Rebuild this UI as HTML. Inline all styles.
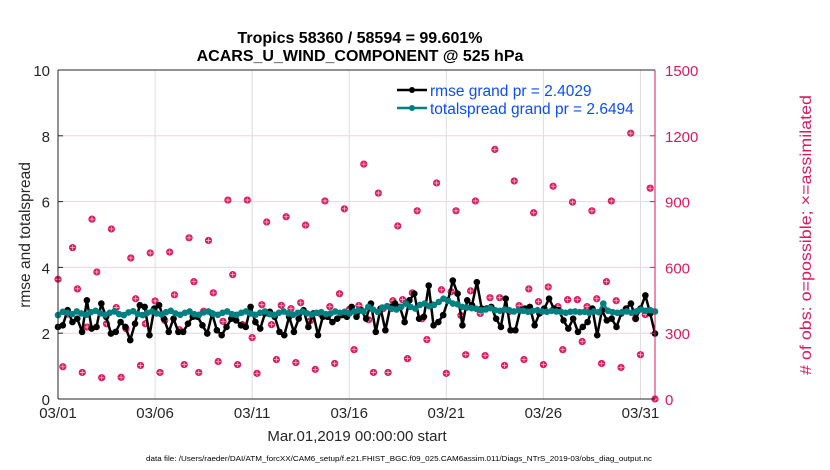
<!DOCTYPE html>
<html><head><meta charset="utf-8">
<style>
html,body{margin:0;padding:0;background:#fff;}
svg{display:block;font-family:"Liberation Sans",sans-serif;}
</style></head>
<body>
<svg id="chart" width="830" height="470" viewBox="0 0 830 470" xmlns="http://www.w3.org/2000/svg">
<rect width="830" height="470" fill="#fff"/>
<g id="grid"></g>
<g id="obs"></g>
<g id="lines"></g>
<g id="axes"></g>
<text x="360" y="43" font-size="16" font-weight="bold" text-anchor="middle">Tropics 58360 / 58594 = 99.601%</text>
<text x="360" y="61" font-size="16" font-weight="bold" text-anchor="middle">ACARS_U_WIND_COMPONENT @ 525 hPa</text>
<text transform="translate(30,235) rotate(-90)" font-size="15.5" text-anchor="middle" fill="#262626">rmse and totalspread</text>
<text transform="translate(811,235) rotate(-90)" font-size="15.5" text-anchor="middle" textLength="280" lengthAdjust="spacingAndGlyphs" fill="#d81b5a"># of obs: o=possible; ×=assimilated</text>
<text x="357" y="441" font-size="15" text-anchor="middle" fill="#262626">Mar.01,2019 00:00:00 start</text>
<text x="146" y="461" font-size="7.6" textLength="506" lengthAdjust="spacingAndGlyphs" fill="#000">data file: /Users/raeder/DAI/ATM_forcXX/CAM6_setup/f.e21.FHIST_BGC.f09_025.CAM6assim.011/Diags_NTrS_2019-03/obs_diag_output.nc</text>
<g>
<line x1="397" y1="90" x2="427" y2="90" stroke="#000" stroke-width="2.5"/>
<circle cx="412" cy="90" r="3" fill="#000"/>
<text x="430" y="96" font-size="15.5" fill="#0b4ef0">rmse grand pr = 2.4029</text>
<line x1="397" y1="108" x2="427" y2="108" stroke="#008080" stroke-width="2.5"/>
<circle cx="412" cy="108" r="3" fill="#008080"/>
<text x="430" y="114" font-size="15.5" fill="#0b4ef0">totalspread grand pr = 2.6494</text>
</g>
</svg>
<script>
const xTickLabels = ["03/01","03/06","03/11","03/16","03/21","03/26","03/31"];
const xTickDays = [0,5,10,15,20,25,30];
const yTicks = [0,2,4,6,8,10];
const yRightTicks = [0,300,600,900,1200,1500];
const rmse = [2.19,2.24,2.7,2.34,2.44,2.04,3.0,2.14,2.19,2.9,2.5,1.99,2.04,2.34,2.19,1.79,2.29,2.85,2.8,1.94,2.75,2.85,2.44,2.04,2.44,2.04,2.04,2.29,2.5,2.5,2.24,1.99,2.6,2.09,1.94,2.19,2.44,2.39,2.24,2.19,2.8,2.34,2.14,2.6,2.65,2.5,2.04,1.94,2.5,2.04,2.44,2.7,2.19,2.6,1.94,2.5,2.5,2.34,2.44,2.55,2.5,2.8,
2.5,2.7,2.44,2.9,2.04,2.75,2.09,2.8,2.9,2.8,2.34,3.0,3.2,2.44,2.5,3.45,2.24,2.34,2.55,3.0,3.6,3.2,2.24,3.0,2.85,3.55,2.75,2.75,2.8,2.44,2.19,3.05,2.09,2.09,2.7,2.75,2.8,2.24,2.6,2.75,3.05,2.75,2.7,2.39,2.14,2.44,2.04,2.19,2.34,2.75,1.94,2.7,2.39,2.44,2.19,2.6,2.75,2.9,2.44,2.75,3.15,2.6,1.99];
const spread = [2.55,2.65,2.62,2.58,2.66,2.6,2.56,2.64,2.68,2.6,2.56,2.62,2.66,2.58,2.55,2.63,2.67,2.58,2.55,2.62,2.66,2.6,2.57,2.64,2.68,2.6,2.56,2.62,2.66,2.58,2.56,2.63,2.66,2.59,2.56,2.62,2.66,2.58,2.56,2.62,2.66,2.6,2.56,2.62,2.66,2.58,2.56,2.62,2.66,2.6,2.56,2.62,2.66,2.6,2.57,2.62,2.64,2.58,2.6,2.66,2.62,2.65,
2.6,2.66,2.7,2.66,2.8,2.72,2.65,2.78,2.82,2.74,2.72,2.8,2.9,2.8,2.75,2.86,2.9,2.82,2.86,2.95,3.05,2.98,2.9,2.88,2.8,2.78,2.76,2.74,2.7,2.72,2.76,2.7,2.68,2.72,2.7,2.66,2.7,2.68,2.65,2.68,2.7,2.66,2.65,2.68,2.66,2.65,2.62,2.65,2.66,2.64,2.65,2.62,2.66,2.64,2.9,2.68,2.64,2.62,2.64,2.66,2.62,2.66,2.72,2.68,2.7,2.66];
const obsCount = [546,147,387,690,502,121,328,820,579,97,343,775,417,99,321,643,457,153,343,666,447,121,358,670,475,316,157,735,535,121,400,723,484,171,354,907,567,157,339,907,280,117,430,807,339,180,427,831,412,166,439,793,357,135,390,903,421,162,480,867,408,225,426,1071,
361,121,939,412,121,448,789,453,184,484,858,366,271,430,985,498,117,489,858,381,202,493,903,390,198,462,1138,462,153,399,994,426,180,502,849,444,157,511,970,421,225,453,898,453,262,421,858,457,162,535,903,448,144,408,1212,366,202,385,961,0];

const X0=58, X1=655, Y0=399, Y1=70;
const NS='http://www.w3.org/2000/svg';
const DAYS = 30.75;
const xDay = d => X0 + d/DAYS*(X1-X0);
const xIdx = (i,n) => X0 + i/(n-1)*(X1-X0);
const yL = v => Y0 - v/10*(Y0-Y1);
const yR = v => Y0 - v/1500*(Y0-Y1);
function mk(tag, attrs, parent){const e=document.createElementNS(NS,tag);for(const k in attrs)e.setAttribute(k,attrs[k]);parent.appendChild(e);return e;}
const grid=document.getElementById('grid'), axes=document.getElementById('axes'), obs=document.getElementById('obs'), lines=document.getElementById('lines');

yTicks.forEach((t,i)=>{
  if(t>0&&t<10){const g=mk('line',{x1:X0,x2:X1,y1:yL(t),y2:yL(t),stroke:'#f0d3dd','stroke-width':1},grid);
  
  }
  const tl=mk('text',{x:X0-8,y:yL(t)+6,'font-size':15,'text-anchor':'end',fill:'#262626'},axes);
  tl.textContent=t;
  
  
  mk('line',{x1:X0,x2:X0+5,y1:yL(t),y2:yL(t),stroke:'#262626'},axes);
});
yRightTicks.forEach(t=>{
  const tl=mk('text',{x:X1+10,y:yR(t)+6,'font-size':15,fill:'#d81b5a'},axes);
  tl.textContent=t;
  
  
  mk('line',{x1:X1-5,x2:X1,y1:yR(t),y2:yR(t),stroke:'#d81b5a'},axes);
});
xTickDays.forEach((d,i)=>{
  const x=xDay(d);
  if(d>0){const g=mk('line',{x1:x,x2:x,y1:Y0,y2:Y1,stroke:'#dcdcdc','stroke-width':1},grid);
  
  }
  const tl=mk('text',{x:x,y:Y0+19,'font-size':15,'text-anchor':'middle',fill:'#262626'},axes);
  tl.textContent=xTickLabels[i];
  
  
});
mk('line',{x1:X0,x2:X0,y1:Y0,y2:Y1,stroke:'#262626'},axes);
mk('line',{x1:X0,x2:X1,y1:Y0,y2:Y0,stroke:'#262626'},axes);
mk('line',{x1:X0,x2:X1,y1:Y1,y2:Y1,stroke:'#262626'},axes);
mk('line',{x1:X1,x2:X1,y1:Y0,y2:Y1,stroke:'#d81b5a'},axes);

obsCount.forEach((v,i)=>{
  const x=xIdx(i,obsCount.length), y=yR(v);
  const c=mk('circle',{cx:x,cy:y,r:3.6,fill:'#d81b5a'},obs);
  
  
  mk('path',{d:`M${x-2.5},${y}H${x+2.5}M${x},${y-2.5}V${y+2.5}`,stroke:'#f7b6cc','stroke-width':0.8},obs);
});

function series(vals,color,name){
  const pts=vals.map((v,i)=>xIdx(i,vals.length).toFixed(1)+','+yL(v).toFixed(1)).join(' ');
  const pl=mk('polyline',{points:pts,fill:'none',stroke:color,'stroke-width':2.5,'stroke-linejoin':'round'},lines);
  
  
  vals.forEach((v,i)=>{
    const c=mk('circle',{cx:xIdx(i,vals.length),cy:yL(v),r:3.3,fill:color},lines);
    
    
  });
}
series(rmse,'#000','rmse');
series(spread,'#008080','totalspread');
</script>
</body></html>
